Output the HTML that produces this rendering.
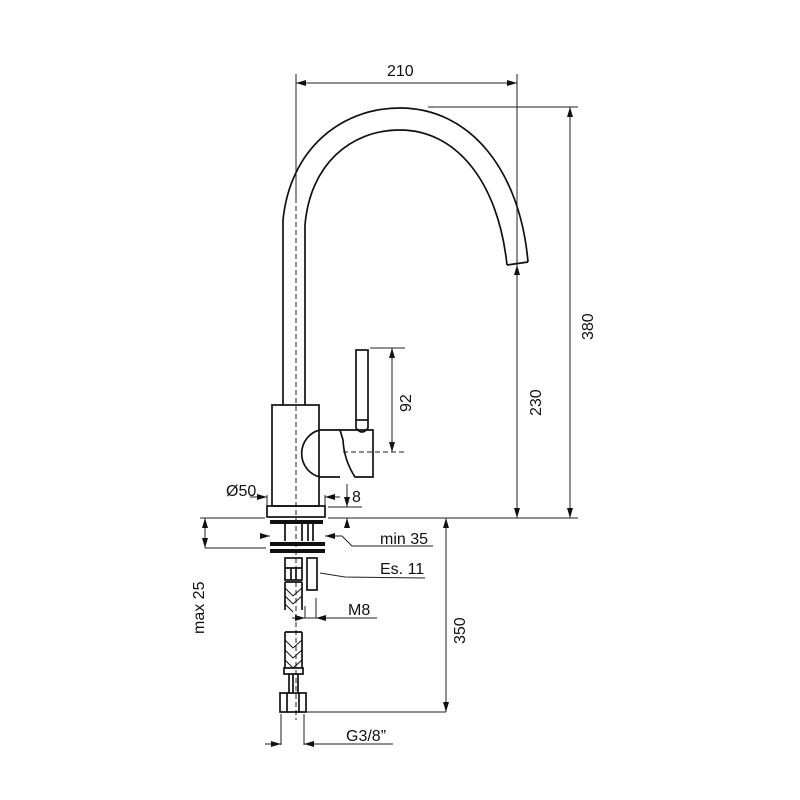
<!DOCTYPE html>
<html><head><meta charset="utf-8"><style>
html,body{margin:0;padding:0;background:#fff}
svg{display:block}
text{font-family:"Liberation Sans",Arial,sans-serif;font-size:16px;fill:#111}
</style></head><body>
<svg width="800" height="800" viewBox="0 0 800 800" xmlns="http://www.w3.org/2000/svg">
<defs>
<marker id="a" markerWidth="10" markerHeight="6" refX="10" refY="3" orient="auto-start-reverse" markerUnits="userSpaceOnUse"><path d="M0,0 L10,3 L0,6 z" fill="#111"/></marker>
</defs>
<g fill="none" stroke="#222" stroke-width="1">
<line x1="296" y1="74" x2="296" y2="200"/>
<line x1="517" y1="74" x2="517" y2="270"/>
<line x1="296" y1="83" x2="517" y2="83" marker-start="url(#a)" marker-end="url(#a)"/>
<line x1="428" y1="107" x2="578" y2="107"/>
<line x1="570" y1="107" x2="570" y2="518" marker-start="url(#a)" marker-end="url(#a)"/>
<line x1="517" y1="265" x2="517" y2="518" marker-start="url(#a)" marker-end="url(#a)"/>
<line x1="200" y1="518" x2="265" y2="518"/>
<line x1="328" y1="518" x2="578" y2="518"/>
<line x1="370" y1="348" x2="405" y2="348"/>
<line x1="343" y1="452" x2="405" y2="452" stroke-dasharray="5,3"/>
<line x1="392" y1="348" x2="392" y2="452" marker-start="url(#a)" marker-end="url(#a)"/>
<line x1="328" y1="507" x2="362" y2="507"/>
<line x1="347" y1="484" x2="347" y2="507" marker-end="url(#a)"/>
<line x1="347" y1="528" x2="347" y2="518" marker-end="url(#a)"/>
<line x1="267" y1="495" x2="267" y2="510"/>
<line x1="325" y1="495" x2="325" y2="510"/>
<line x1="250" y1="497" x2="267" y2="497" marker-end="url(#a)"/>
<line x1="340" y1="497" x2="325" y2="497" marker-end="url(#a)"/>
<line x1="205" y1="548" x2="266" y2="548"/>
<line x1="205" y1="518" x2="205" y2="548" marker-start="url(#a)" marker-end="url(#a)"/>
<line x1="260" y1="536" x2="270" y2="536" marker-end="url(#a)"/>
<line x1="338" y1="536" x2="325" y2="536" marker-end="url(#a)"/>
<polyline points="338,536 342,536 352,546 433,546"/>
<polyline points="320,573 345,577 425,578"/>
<line x1="293" y1="618" x2="377" y2="618"/>
<line x1="305" y1="606" x2="305" y2="618"/>
<line x1="316" y1="598" x2="316" y2="618"/>
<line x1="292" y1="618" x2="305" y2="618" marker-end="url(#a)"/>
<line x1="330" y1="618" x2="316" y2="618" marker-end="url(#a)"/>
<line x1="303" y1="712" x2="446" y2="712"/>
<line x1="446" y1="518" x2="446" y2="712" marker-start="url(#a)" marker-end="url(#a)"/>
<line x1="281" y1="714" x2="281" y2="745"/>
<line x1="304" y1="714" x2="304" y2="745"/>
<line x1="265" y1="744" x2="281" y2="744" marker-end="url(#a)"/>
<line x1="320" y1="744" x2="304" y2="744" marker-end="url(#a)"/>
<line x1="320" y1="744" x2="393" y2="744"/>
<line x1="296" y1="190" x2="296" y2="720" stroke-dasharray="5,3"/>
</g>
<g fill="none" stroke="#111" stroke-width="1.7">
<path d="M283,405 L283,220 C290,150 340,108 400,108 C470,108 520,170 528,262"/>
<path d="M305,405 L305,225 C310,165 350,130 400,130 C455,130 498,180 507,265"/>
<path d="M507,265 L528,262"/>
<rect x="272" y="405" width="47" height="101"/>
<rect x="267" y="506" width="58" height="11"/>
<path d="M340,430 L320,430 A23,24 0 0 0 320,477 L340,477"/>
<path d="M340,430 L373,430 L373,477 L355,477 Q344,460 343,440 Z"/>
<rect x="356" y="350" width="12" height="70"/>
<path d="M356,420 L356,428 Q362,436 368,428 L368,420"/>
<line x1="285" y1="524" x2="285" y2="541"/>
<line x1="302" y1="524" x2="302" y2="541"/>
<line x1="308" y1="524" x2="308" y2="541"/>
<line x1="313" y1="524" x2="313" y2="541"/>
<rect x="285" y="558" width="17" height="22"/>
<line x1="285" y1="568" x2="302" y2="568"/>
<line x1="291" y1="568" x2="291" y2="580"/><line x1="296" y1="568" x2="296" y2="580"/>
<path d="M285,582 L285,610 M302,582 L302,610 M285,582 L302,582"/>
<path d="M285,588 L293,596 L302,588 M285,596 L293,604 L302,596 M285,604 L293,612" stroke-width="1"/>
<rect x="307" y="558" width="10" height="32"/>
<path d="M285,632 L285,668 M302,632 L302,668 M285,632 L302,632" />
<path d="M285,640 L293,648 L302,640 M285,650 L293,658 L302,650 M285,660 L293,668 L302,660" stroke-width="1"/>
<rect x="284" y="668" width="19" height="6"/>
<line x1="289" y1="674" x2="289" y2="693"/><line x1="298" y1="674" x2="298" y2="693"/>
<line x1="293" y1="674" x2="293" y2="693"/>
<rect x="280" y="693" width="26" height="19"/>
<line x1="287" y1="693" x2="287" y2="712"/><line x1="299" y1="693" x2="299" y2="712"/>
</g>
<g fill="#111">
<rect x="270" y="520" width="53" height="4"/>
<rect x="270" y="542" width="55" height="4"/>
<rect x="270" y="549" width="55" height="4"/>
</g>
<text x="387" y="76">210</text>
<text x="226" y="496">Ø50</text>
<text x="352" y="502">8</text>
<text x="380" y="544">min 35</text>
<text x="380" y="574">Es. 11</text>
<text x="348" y="615">M8</text>
<text x="346" y="741">G3/8”</text>
<text transform="translate(411,400) rotate(-90)" x="-12" y="0">92</text>
<text transform="translate(541,400) rotate(-90)" x="-16" y="0">230</text>
<text transform="translate(593,324) rotate(-90)" x="-16" y="0">380</text>
<text transform="translate(465,628) rotate(-90)" x="-16" y="0">350</text>
<text transform="translate(204,604) rotate(-90)" x="-30" y="0">max 25</text>
</svg>
</body></html>
